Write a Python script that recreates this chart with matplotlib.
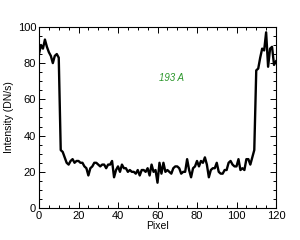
import matplotlib
matplotlib.use("Agg")
import matplotlib.pyplot as plt
from matplotlib.ticker import MultipleLocator

# intensity profile along the slit, one value per pixel
pixel = list(range(121))
intensity = [
    85, 90, 88, 93, 89, 86, 84, 80, 84, 85,
    83, 32, 31, 28, 25, 24, 26, 27, 25, 26,
    26, 25, 25, 23, 22, 18, 22, 23, 25, 25,
    24, 23, 24, 24, 22, 24, 24, 26, 17, 21,
    23, 20, 24, 22, 22, 20, 21, 20, 20, 19,
    21, 18, 21, 21, 20, 22, 18, 24, 20, 21,
    14, 25, 19, 25, 20, 21, 20, 19, 22, 23,
    23, 22, 19, 20, 20, 27, 21, 17, 22, 23,
    26, 23, 26, 25, 28, 24, 17, 21, 22, 22,
    25, 20, 19, 19, 21, 21, 25, 26, 24, 23,
    23, 27, 21, 22, 21, 27, 27, 24, 28, 32,
    76, 77, 83, 88, 87, 97, 78, 88, 89, 79,
    81,
]
channel_label = "193 A"

plt.rcParams['font.family'] = ['Liberation Sans', 'DejaVu Sans']

fig = plt.figure(figsize=(3.0, 2.4), dpi=100)
ax = fig.add_axes([0.13, 0.133, 0.79, 0.755])

ax.plot(pixel, intensity, color='black', linewidth=1.7)

ax.set_xlim(0, 120)
ax.set_ylim(0, 100)
ax.xaxis.set_major_locator(MultipleLocator(20))
ax.xaxis.set_minor_locator(MultipleLocator(5))
ax.yaxis.set_major_locator(MultipleLocator(20))
ax.yaxis.set_minor_locator(MultipleLocator(5))
ax.tick_params(which='both', direction='in', top=True, right=True,
               labelsize=8, width=0.7, pad=2)
ax.tick_params(which='major', length=4.5)
ax.tick_params(which='minor', length=2.2)
for s in ax.spines.values():
    s.set_linewidth(0.8)

ax.set_xlabel('Pixel', fontsize=7.5, labelpad=0)
ax.set_ylabel('Intensity (DN/s)', fontsize=7.5, labelpad=3)

ax.text(67, 72, channel_label, color='#2a962a', fontsize=7, style='italic',
        ha='center', va='center')

fig.savefig('out.png', dpi=100)
